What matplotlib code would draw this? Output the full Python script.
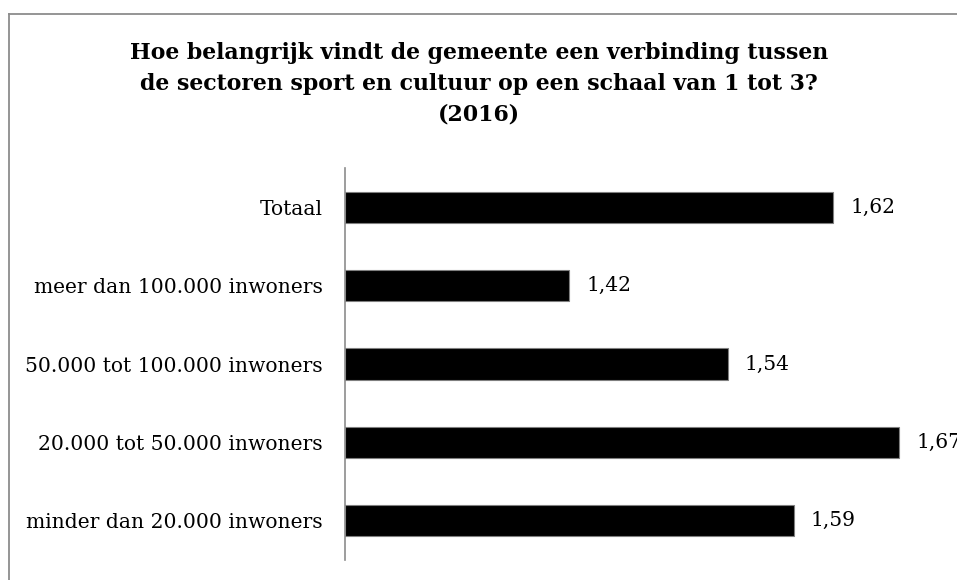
import matplotlib
matplotlib.use("Agg")
import matplotlib.pyplot as plt
from matplotlib.lines import Line2D

categories = ["Totaal", "meer dan 100.000 inwoners", "50.000 tot 100.000 inwoners",
              "20.000 tot 50.000 inwoners", "minder dan 20.000 inwoners"]
values = [1.62, 1.42, 1.54, 1.67, 1.59]
value_labels = ["1,62", "1,42", "1,54", "1,67", "1,59"]
title = ("Hoe belangrijk vindt de gemeente een verbinding tussen\n"
         "de sectoren sport en cultuur op een schaal van 1 tot 3?\n(2016)")

plt.rcParams['font.family'] = ['DejaVu Serif']

W, H = 957, 580
fig = plt.figure(figsize=(W / 100, H / 100), dpi=100)
ax = fig.add_axes([345 / W, 1 - 560 / H, 594 / W, 392 / H])

base = 1.25
ypos = list(range(len(categories)))
ax.barh(ypos, [v - base for v in values], left=base, height=0.40,
        color="black", edgecolor="#7f7f7f", linewidth=0.8)
ax.set_xlim(base, 1.70)
ax.set_ylim(len(categories) - 0.5, -0.5)
ax.set_yticks(ypos)
ax.set_yticklabels(categories, fontsize=14.6)
ax.tick_params(axis="y", length=0, pad=16)
ax.set_xticks([])
for s in ["top", "right", "bottom"]:
    ax.spines[s].set_visible(False)
ax.spines["left"].set_color("#8c8c8c")
ax.spines["left"].set_linewidth(1.2)

for y, v, lab in zip(ypos, values, value_labels):
    ax.annotate(lab, (v, y), xytext=(12, 0), textcoords="offset points",
                va="center", ha="left", fontsize=14.6, annotation_clip=False)

fig.text(479 / W, 1 - 84 / H, title, ha="center", va="center",
         fontsize=15.8, fontweight="bold", linespacing=1.52)

# outer border (chart area frame, cropped on right and bottom)
fig.add_artist(Line2D([8.5 / W, 8.5 / W], [1 - 13.5 / H, 0], color="#8c8c8c", lw=1.3,
                      transform=fig.transFigure))
fig.add_artist(Line2D([8.5 / W, 1], [1 - 13.5 / H, 1 - 13.5 / H], color="#8c8c8c", lw=1.3,
                      transform=fig.transFigure))

fig.savefig("out.png", dpi=100)
